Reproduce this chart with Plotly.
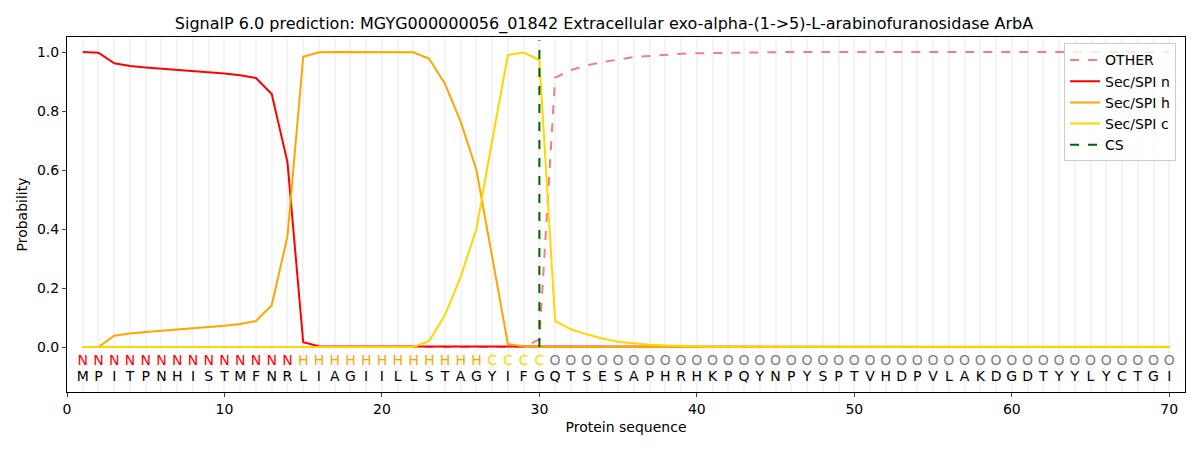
import plotly.graph_objects as go

# Sequence and per-residue labels
sequence = list("MPITPNHISTMFNRLIAGIILLSTAGYIFGQTSESAPHRHKPQYNPYSPTVHDPVLAKDGDTYYLYCTGI")
labels = list("N" * 14 + "H" * 12 + "C" * 4 + "O" * 40)
positions = list(range(1, 71))
cs_pos = 30

# Probabilities
prob_other = [0.0] * 29 + [0.026, 0.913, 0.939, 0.955, 0.966, 0.975, 0.983, 0.987, 0.991, 0.994, 0.996,
                           0.997, 0.998, 0.999] + [1.0] * 28
prob_n = [1.0, 0.998, 0.962, 0.953, 0.948, 0.944, 0.940, 0.935, 0.931, 0.927, 0.921, 0.912, 0.858, 0.627,
          0.016, 0.003, 0.002, 0.002, 0.001, 0.001, 0.001, 0.001, 0.001, 0.001, 0.001, 0.001, 0.001, 0.001,
          0.001, 0.0] + [0.0] * 40
prob_h = [0.0, 0.0, 0.038, 0.046, 0.051, 0.055, 0.059, 0.064, 0.068, 0.072, 0.078, 0.088, 0.142, 0.375,
          0.984, 0.999, 1.0, 1.0, 1.0, 1.0, 1.0, 0.999, 0.977, 0.893, 0.764, 0.600, 0.306, 0.010, 0.002,
          0.0] + [0.0] * 40
prob_c = [0.0] * 22 + [0.021, 0.108, 0.238, 0.400, 0.700, 0.990, 0.998, 0.973, 0.088, 0.060, 0.043, 0.029,
                       0.018, 0.012, 0.008, 0.005, 0.003, 0.002] + [0.001] * 30

label_colors = {"N": "red", "H": "orange", "C": "gold", "O": "grey"}

fig = go.Figure()

fig.add_trace(go.Scatter(x=positions, y=prob_other, mode="lines", name="OTHER",
                         line=dict(color="lightcoral", width=2, dash="dash")))
fig.add_trace(go.Scatter(x=positions, y=prob_n, mode="lines", name="Sec/SPI n",
                         line=dict(color="red", width=2)))
fig.add_trace(go.Scatter(x=positions, y=prob_h, mode="lines", name="Sec/SPI h",
                         line=dict(color="orange", width=2)))
fig.add_trace(go.Scatter(x=positions, y=prob_c, mode="lines", name="Sec/SPI c",
                         line=dict(color="gold", width=2)))
fig.add_trace(go.Scatter(x=[cs_pos, cs_pos], y=[0, 1.04], mode="lines", name="CS",
                         line=dict(color="darkgreen", width=2, dash="dash")))

# Letters under the curves
fig.add_trace(go.Scatter(x=positions, y=[-0.05] * len(positions), mode="text", text=labels,
                         textfont=dict(color=[label_colors[l] for l in labels], size=14,
                                       family="DejaVu Sans"),
                         showlegend=False, hoverinfo="skip"))
fig.add_trace(go.Scatter(x=positions, y=[-0.104] * len(positions), mode="text", text=sequence,
                         textfont=dict(color="black", size=14, family="DejaVu Sans"),
                         showlegend=False, hoverinfo="skip"))

# page has an 8px body margin, so the figure is a bit smaller than the window
fig.update_layout(
    width=1192,
    height=442,
    margin=dict(l=59, r=15, t=29, b=58),
    title=dict(
        text="SignalP 6.0 prediction: MGYG000000056_01842 Extracellular exo-alpha-(1->5)-L-arabinofuranosidase ArbA",
        x=0.5, xanchor="center", y=0.966, yanchor="middle",
        font=dict(family="DejaVu Sans", size=16, color="black")
    ),
    font=dict(family="DejaVu Sans", size=14, color="black"),
    paper_bgcolor="white",
    plot_bgcolor="white",
    legend=dict(
        x=0.992, y=0.982, xanchor="right", yanchor="top",
        bordercolor="#cccccc", borderwidth=1, bgcolor="rgba(255,255,255,0.8)",
        font=dict(size=14), tracegroupgap=0
    ),
    xaxis=dict(
        range=[0, 71],
        tickmode="linear", tick0=0, dtick=10,
        ticks="outside", ticklen=4,
        showline=True, linecolor="black", linewidth=1, mirror=True,
        showgrid=True, gridcolor="#f4f4f4", gridwidth=2,
        minor=dict(dtick=1, tick0=0, showgrid=True, gridcolor="#f4f4f4", gridwidth=2),
        zeroline=False, automargin=False,
        title=dict(text="Protein sequence", font=dict(size=14), standoff=6)
    ),
    yaxis=dict(
        range=[-0.1525, 1.051],
        tickmode="array", tickvals=[0, 0.2, 0.4, 0.6, 0.8, 1.0],
        ticktext=["0.0", "0.2", "0.4", "0.6", "0.8", "1.0"],
        ticks="outside", ticklen=4,
        showline=True, linecolor="black", linewidth=1, mirror=True,
        showgrid=False, zeroline=False, automargin=False,
        title=dict(text="Probability", font=dict(size=14), standoff=6)
    )
)

fig.write_html("out.html")
